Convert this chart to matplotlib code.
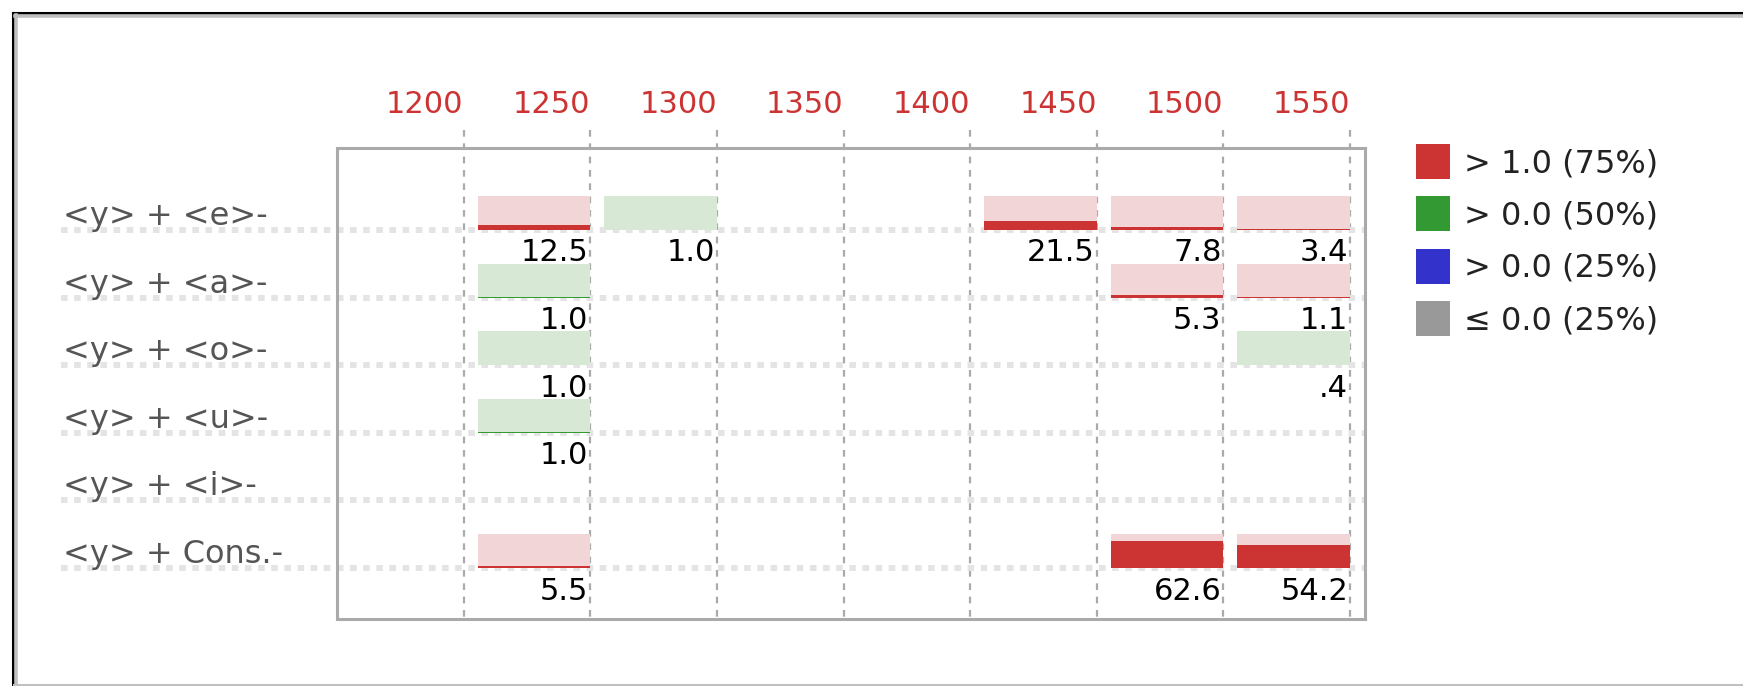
import numpy as np
import matplotlib
matplotlib.use("Agg")
import matplotlib.pyplot as plt
from matplotlib.patches import Patch
from matplotlib.lines import Line2D

# data
columns = [1200, 1250, 1300, 1350, 1400, 1450, 1500, 1550]
rows = ["<y> + <e>", "<y> + <a>", "<y> + <o>", "<y> + <u>", "<y> + <i>", "<y> + Cons."]
nan = np.nan
values = [
    [nan, 12.5, 1.0, nan, nan, 21.5, 7.8, 3.4],
    [nan, 1.0, nan, nan, nan, nan, 5.3, 1.1],
    [nan, 1.0, nan, nan, nan, nan, nan, 0.4],
    [nan, 1.0, nan, nan, nan, nan, nan, nan],
    [nan, nan, nan, nan, nan, nan, nan, nan],
    [nan, 5.5, nan, nan, nan, nan, 62.6, 54.2],
]
legend_labels = ["> 1.0 (75%)", "> 0.0 (50%)", "> 0.0 (25%)", "\u2264 0.0 (25%)"]
legend_colors = ["#cc3333", "#339933", "#3333cc", "#999999"]

RED, RED_PALE = "#cc3333", "#f2d5d6"
GREEN, GREEN_PALE = "#339933", "#d7e9d5"
vmax = 78.0
FS = 22

W, H = 1743, 686
fig = plt.figure(figsize=(W / 100, H / 100), dpi=100)
fig.patch.set_facecolor("white")

# outer frame (top + left black, gray inner, gray bottom)
fig.add_artist(Line2D([12.5 / W, 1], [1 - 12.5 / H] * 2, color="black", lw=2.2))
fig.add_artist(Line2D([12.5 / W] * 2, [0, 1 - 12.5 / H], color="black", lw=2.2))
fig.add_artist(Line2D([15 / W, 1], [1 - 16 / H] * 2, color="#c0c0c0", lw=2.6))
fig.add_artist(Line2D([16 / W] * 2, [0, 1 - 15 / H], color="#c0c0c0", lw=2.6))
fig.add_artist(Line2D([14 / W, 1], [1.5 / H] * 2, color="#c0c0c0", lw=2.2))

ax = fig.add_axes([337 / W, 1 - 619 / H, (1365 - 337) / W, (619 - 148) / H])
ncol = len(columns)
ax.set_xlim(0, ncol + 0.118)
ax.set_ylim(5.754, -1.213)
for s in ax.spines.values():
    s.set_color("#aaaaaa")
    s.set_linewidth(2.2)
    s.set_zorder(5)

# column labels on top, right-aligned on the grid lines
ax.xaxis.tick_top()
ax.set_xticks(np.arange(1, ncol + 1))
ax.set_xticklabels([str(c) for c in columns], color="#cc3333", fontsize=FS, ha="right")
ax.tick_params(axis="x", length=0, pad=21)
ax.set_yticks([])

# grid lines
for i in range(ncol):
    ax.plot([i + 1, i + 1], [-1.48, 5.754], color="#aaaaaa", lw=1.6,
            ls=(0, (3, 3)), clip_on=False, zorder=1)
for j in range(len(rows)):
    ax.plot([-2.18, ncol + 0.118], [j, j], color="#e4e4e4", lw=4.3,
            ls=(0, (1.1, 1.1)), clip_on=False, zorder=1)
    ax.text(-2.16, j - 0.2, rows[j] + "-", ha="left", va="center",
            fontsize=FS + 1, color="#555555", clip_on=False)

# bars
bar_h = 0.5
for j, row in enumerate(values):
    for i, v in enumerate(row):
        if np.isnan(v):
            continue
        dark, pale = (RED, RED_PALE) if v > 1.0 else (GREEN, GREEN_PALE)
        ax.bar(i + 0.11, -bar_h, bottom=j, width=0.89, align="edge",
               color=pale, zorder=2)
        ax.bar(i + 0.11, -bar_h * v / vmax, bottom=j, width=0.89, align="edge",
               color=dark, zorder=3)
        txt = f"{v:.1f}"
        if txt.startswith("0"):
            txt = txt[1:]
        ax.text(i + 0.985, j + 0.34, txt, ha="right", va="center",
                fontsize=FS, color="black", zorder=4)

handles = [Patch(facecolor=c, edgecolor="none") for c in legend_colors]
fig.legend(handles, legend_labels, loc="upper left",
           bbox_to_anchor=(1416 / W, 1 - 144 / H), frameon=False,
           prop={"size": FS + 1}, handlelength=1.05, handleheight=1.3,
           handletextpad=0.45, labelspacing=0.54, borderpad=0, borderaxespad=0,
           labelcolor="#222222")

fig.savefig("out.png", dpi=100)
